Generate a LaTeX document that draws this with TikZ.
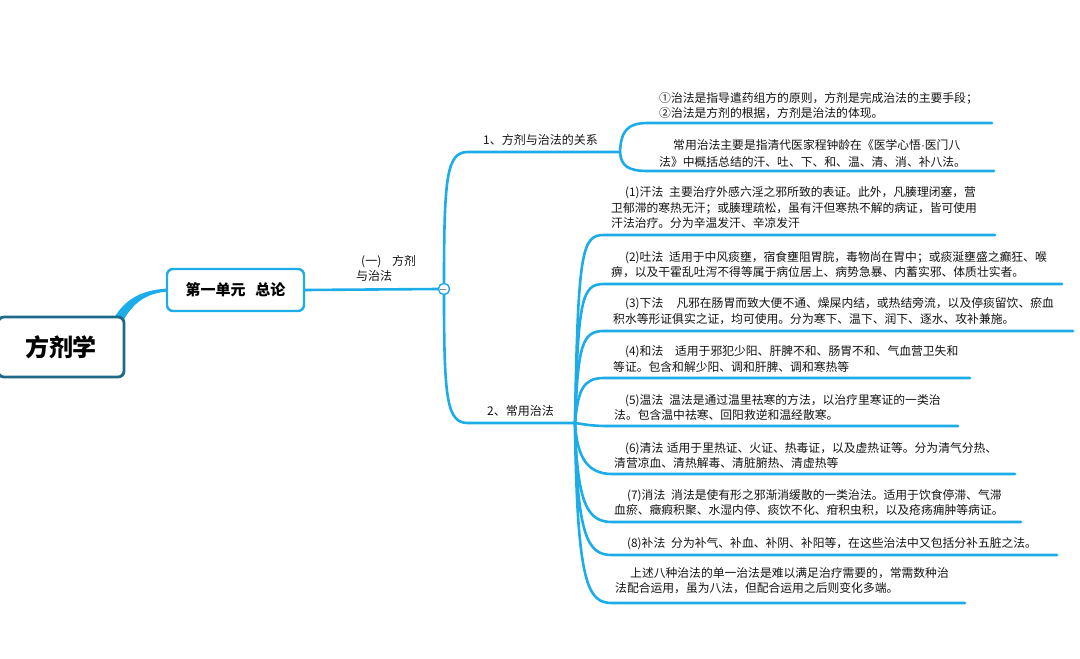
\documentclass[tikz,border=0pt]{standalone}
\usepackage{fontspec}
\setmainfont{Noto Sans CJK SC}
\newfontfamily\latdot{Liberation Sans}
\definecolor{lineblue}{RGB}{28,172,232}
\definecolor{rootedge}{RGB}{30,105,135}
\definecolor{textc}{RGB}{20,20,20}
\tikzset{
  br/.style={draw=lineblue, line width=2.6pt, line cap=round},
  txt/.style={anchor=base west, inner sep=0pt, font=\fontsize{11.8}{14}\selectfont, text=textc},
  lbl/.style={anchor=base west, inner sep=0pt, font=\fontsize{12}{14}\selectfont, text=textc},
  rootbox/.style={draw=rootedge, line width=2.8pt, rounded corners=6pt, fill=white, minimum width=126pt, minimum height=60pt, font=\fontsize{24}{28}\selectfont\bfseries, text=black},
  unitbox/.style={draw=lineblue, line width=2.4pt, rounded corners=6pt, fill=white, minimum width=137pt, minimum height=42pt, font=\fontsize{15}{18}\selectfont\bfseries, text=black},
  toggle/.style={circle, draw=lineblue, line width=1.3pt, fill=white, minimum size=11pt, inner sep=0pt}
}
\begin{document}
\begin{tikzpicture}[x=1pt,y=-1pt]
\fill[white] (0,0) rectangle (1080,659);
\useasboundingbox (0,0) rectangle (1080,659);

% root to unit tapered connector
\coordinate (ra) at (114,318);
\coordinate (rb) at (123,321);
\coordinate (ua) at (168,288.5);
\coordinate (ub) at (168,291.5);
\fill[lineblue] (ra) .. controls (125,300) and (140,290) .. (ua) -- (ub) .. controls (146,293) and (133,303) .. (rb) -- cycle;

\node[rootbox] (root) at (61,347) {方剂学};
\node[unitbox] (unit) at (235.5,290) {第一单元\hspace{0.65em}总论};

% toggle
\node[toggle] (tog) at (444,289) {};
\draw[br] (unit.east) -- (tog.west);
\node[lbl] (l0a) at (361,265.5) {(一)\hspace{0.9em}方剂};
\node[lbl] (l0b) at (356,280.5) {与治法};

% level 2 branches
\coordinate (b1s) at (468,152);
\coordinate (b1e) at (620,152);
\coordinate (b2s) at (468,423);
\coordinate (b2e) at (575,423);
\draw[br] (tog.north) .. controls (444,175) and (447,152) .. (b1s) -- (b1e);
\draw[br] (tog.south) .. controls (444,400) and (447,423) .. (b2s) -- (b2e);
\node[lbl] (t1) at (483,144.5) {1、方剂与治法的关系};
\node[lbl] (t2) at (487,415.5) {2、常用治法};

% branch 1 leaves
\coordinate (u1s) at (648,123);
\coordinate (u1e) at (992,123);
\coordinate (u2s) at (648,171);
\coordinate (u2e) at (994,171);
\draw[br] (b1e) .. controls (621,130) and (628,123) .. (u1s) -- (u1e);
\draw[br] (b1e) .. controls (621,166) and (628,171) .. (u2s) -- (u2e);
\node[txt] (p1a) at (659,102.5) {①治法是指导遣药组方的原则，方剂是完成治法的主要手段；};
\node[txt] (p1b) at (659,117.5) {②治法是方剂的根据，方剂是治法的体现。};
\node[txt] (p2a) at (673,149.5) {常用治法主要是指清代医家程钟龄在《医学心悟{\latdot ·}医门八};
\node[txt] (p2b) at (659,166) {法》中概括总结的汗、吐、下、和、温、清、消、补八法。};

% branch 2 leaves (upper)
\coordinate (s1) at (604,235); \coordinate (e1) at (995,235);
\coordinate (s2) at (604,284); \coordinate (e2) at (1062,284);
\coordinate (s3) at (604,331); \coordinate (e3) at (1073,331);
\coordinate (s4) at (604,378); \coordinate (e4) at (970,378);
\coordinate (s5) at (608,426); \coordinate (e5) at (958,426);
\draw[br] (b2e) .. controls (578,250) and (582,235) .. (s1) -- (e1);
\draw[br] (b2e) .. controls (578,298) and (582,284) .. (s2) -- (e2);
\draw[br] (b2e) .. controls (578,345) and (582,331) .. (s3) -- (e3);
\draw[br] (b2e) .. controls (578,390) and (583,378) .. (s4) -- (e4);
\draw[br] (b2e) .. controls (583,424) and (590,426) .. (s5) -- (e5);
% lower
\coordinate (s6) at (612,474); \coordinate (e6) at (1015,474);
\coordinate (s7) at (612,522); \coordinate (e7) at (1021,522);
\coordinate (s8) at (612,555); \coordinate (e8) at (1057,555);
\coordinate (s9) at (612,603); \coordinate (e9) at (965,603);
\draw[br] (b2e) .. controls (577,458) and (588,474) .. (s6) -- (e6);
\draw[br] (b2e) .. controls (577,505) and (588,522) .. (s7) -- (e7);
\draw[br] (b2e) .. controls (577,538) and (588,555) .. (s8) -- (e8);
\draw[br] (b2e) .. controls (577,585) and (588,603) .. (s9) -- (e9);

% toggle minus (drawn above lines)
\node[toggle] (tog2) at (tog) {};
\draw[draw=black!45, line width=0.9pt] (tog2.west) ++(2.5,0) -- ++(6,0);

% leaf texts
\node[txt] (q1a) at (625,196.5) {(1)汗法\hspace{0.5em}主要治疗外感六淫之邪所致的表证。此外，凡腠理闭塞，营};
\node[txt] (q1b) at (611,212.5) {卫郁滞的寒热无汗；或腠理疏松，虽有汗但寒热不解的病证，皆可使用};
\node[txt] (q1c) at (611,227.5) {汗法治疗。分为辛温发汗、辛凉发汗};

\node[txt] (q2a) at (625,261) {(2)吐法\hspace{0.5em}适用于中风痰壅，宿食壅阻胃脘，毒物尚在胃中；或痰涎壅盛之癫狂、喉};
\node[txt] (q2b) at (611,276.5) {痹，以及干霍乱吐泻不得等属于病位居上、病势急暴、内蓄实邪、体质壮实者。};

\node[txt] (q3a) at (625,307.5) {(3)下法\hspace{1.1em}凡邪在肠胃而致大便不通、燥屎内结，或热结旁流，以及停痰留饮、瘀血};
\node[txt] (q3b) at (613,323.5) {积水等形证俱实之证，均可使用。分为寒下、温下、润下、逐水、攻补兼施。};

\node[txt] (q4a) at (625,355.5) {(4)和法\hspace{1em}适用于邪犯少阳、肝脾不和、肠胃不和、气血营卫失和};
\node[txt] (q4b) at (613,371.5) {等证。包含和解少阳、调和肝脾、调和寒热等};

\node[txt] (q5a) at (625,404.5) {(5)温法\hspace{0.5em}温法是通过温里祛寒的方法，以治疗里寒证的一类治};
\node[txt] (q5b) at (614,419.5) {法。包含温中祛寒、回阳救逆和温经散寒。};

\node[txt] (q6a) at (625,452.5) {(6)清法\hspace{0.3em}适用于里热证、火证、热毒证，以及虚热证等。分为清气分热、};
\node[txt] (q6b) at (614,467.5) {清营凉血、清热解毒、清脏腑热、清虚热等};

\node[txt] (q7a) at (627,499.5) {(7)消法\hspace{0.5em}消法是使有形之邪渐消缓散的一类治法。适用于饮食停滞、气滞};
\node[txt] (q7b) at (614,514.5) {血瘀、癥瘕积聚、水湿内停、痰饮不化、疳积虫积，以及疮疡痈肿等病证。};

\node[txt] (q8a) at (627,547.5) {(8)补法\hspace{0.5em}分为补气、补血、补阴、补阳等，在这些治法中又包括分补五脏之法。};

\node[txt] (q9a) at (630,577) {上述八种治法的单一治法是难以满足治疗需要的，常需数种治};
\node[txt] (q9b) at (615,592) {法配合运用，虽为八法，但配合运用之后则变化多端。};
\end{tikzpicture}
\end{document}
